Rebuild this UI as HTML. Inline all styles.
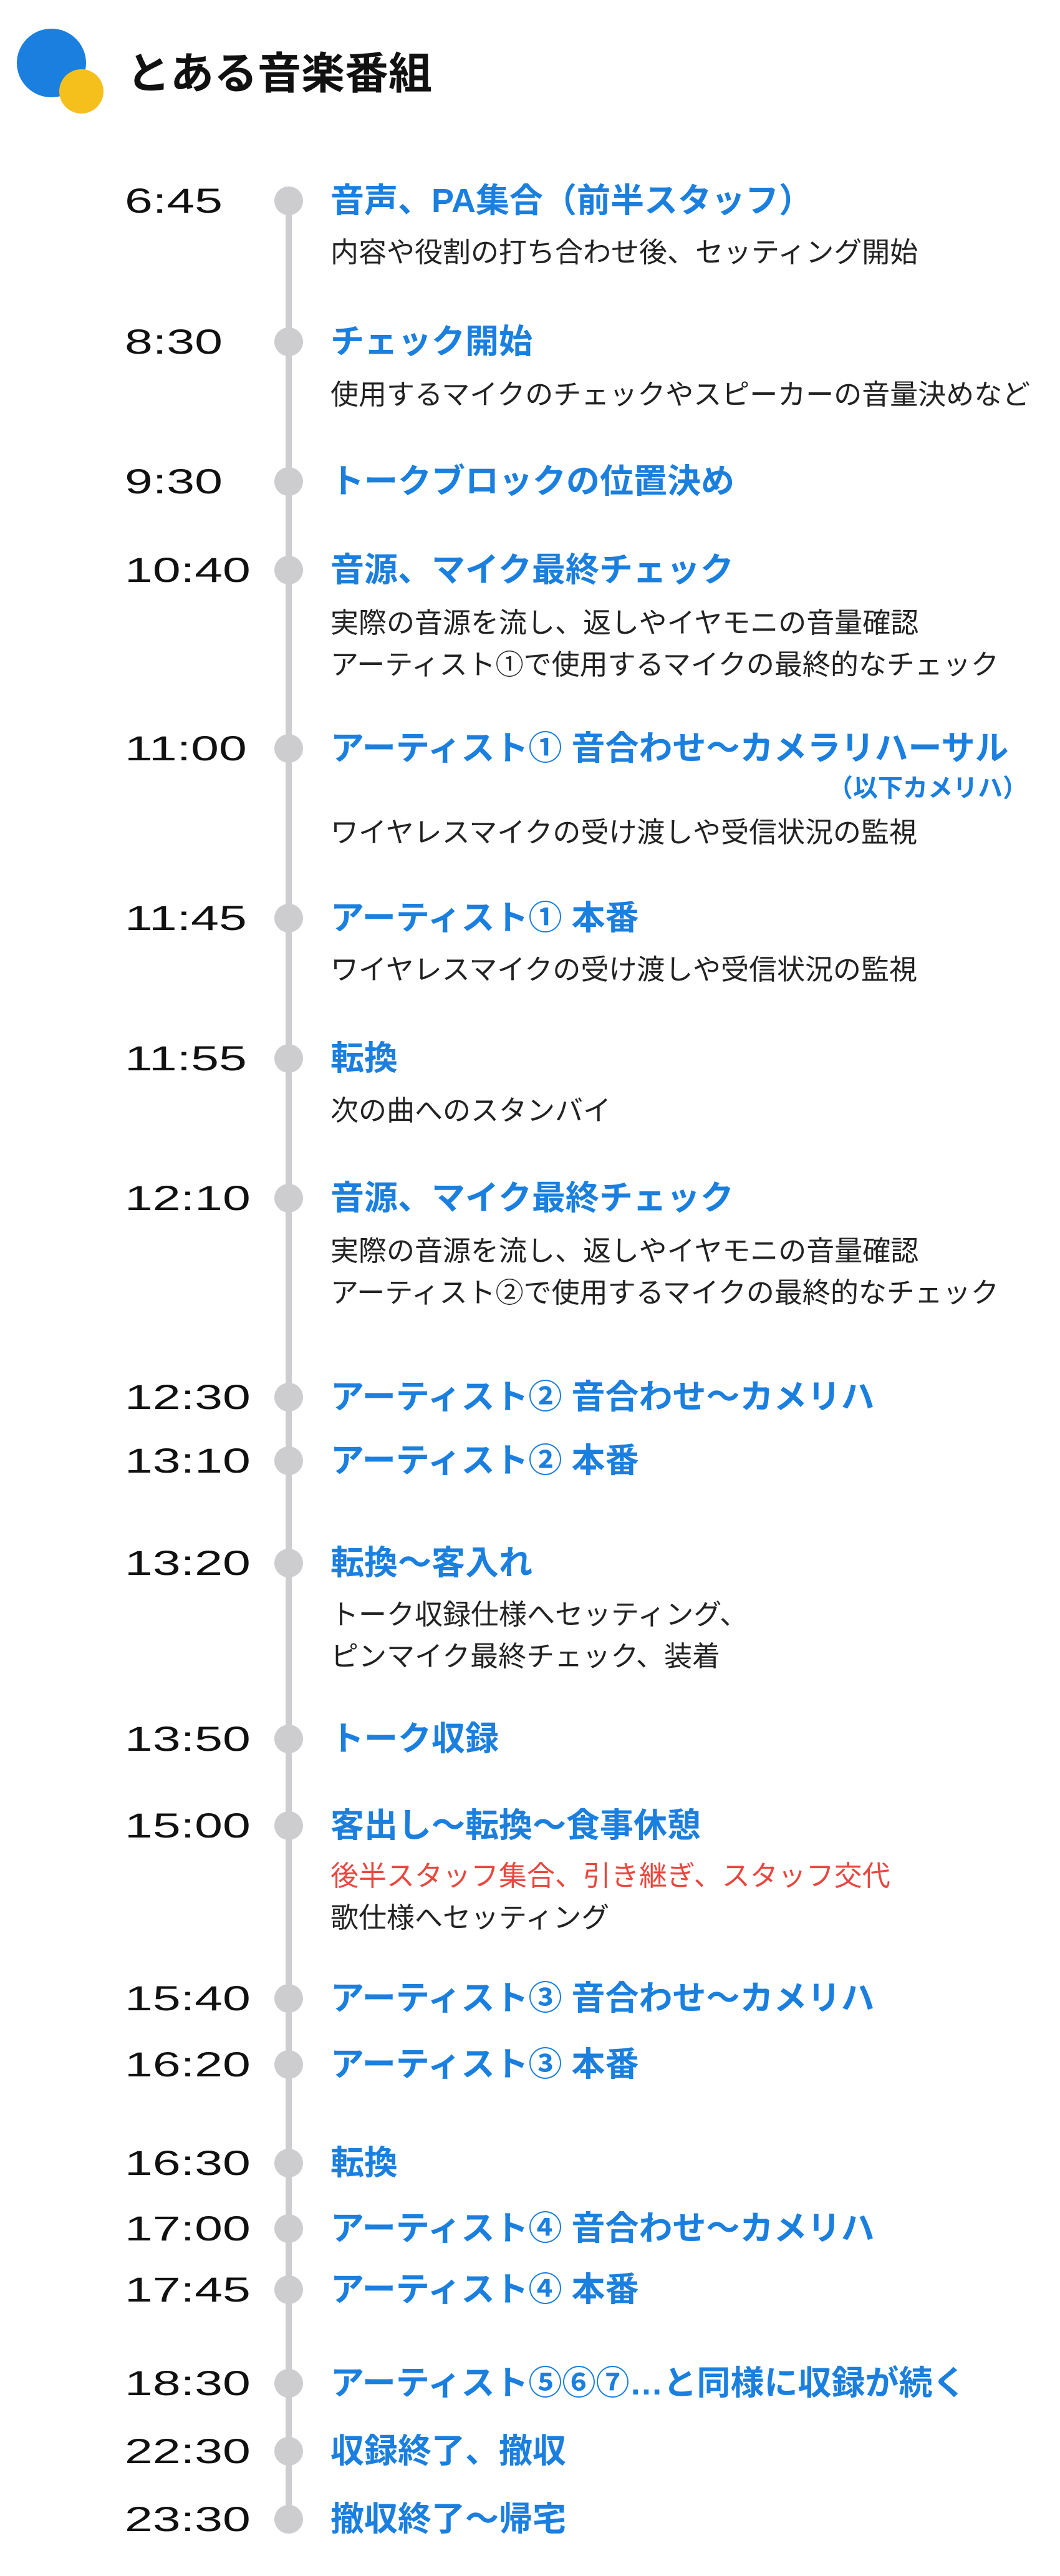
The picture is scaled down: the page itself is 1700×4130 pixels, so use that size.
<!DOCTYPE html>
<html><head><meta charset="utf-8"><style>
html,body{margin:0;padding:0;background:#fff;}
body{width:1700px;height:4130px;position:relative;overflow:hidden;font-family:"Liberation Sans","Noto Sans CJK JP",sans-serif;}
.a{position:absolute;white-space:nowrap;height:80px;line-height:80px;}
.t{left:200px;font-size:56px;color:#111;transform:scaleX(1.44);transform-origin:left center;}
.h{left:530px;font-size:54px;font-weight:bold;color:#1a7fdf;}
.d{left:530px;font-size:45px;color:#222;}
.r{color:#e8473f;}
.dot{position:absolute;left:440px;width:46px;height:46px;border-radius:50%;background:#cdcdd0;}
</style></head><body>
<div style="position:absolute;left:27px;top:46px;width:111px;height:110px;border-radius:50%;background:#1a7fdf;"></div>
<div style="position:absolute;left:95px;top:111px;width:71px;height:71px;border-radius:50%;background:#f5bf1c;"></div>
<div class="a" style="left:203px;top:78px;font-size:70px;font-weight:bold;color:#111;">とある音楽番組</div>
<div style="position:absolute;left:458px;top:322px;width:10px;height:3717px;background:#cdcdd0;"></div>

<div class="dot" style="top:299px"></div><div class="a t" style="top:282px">6:45</div><div class="a h" style="top:282px">音声、PA集合（前半スタッフ）</div>
<div class="a d" style="top:365px">内容や役割の打ち合わせ後、セッティング開始</div>

<div class="dot" style="top:525px"></div><div class="a t" style="top:508px">8:30</div><div class="a h" style="top:508px">チェック開始</div>
<div class="a d" style="top:593px">使用するマイクのチェックやスピーカーの音量決めなど</div>

<div class="dot" style="top:749px"></div><div class="a t" style="top:732px">9:30</div><div class="a h" style="top:732px">トークブロックの位置決め</div>

<div class="dot" style="top:891px"></div><div class="a t" style="top:874px">10:40</div><div class="a h" style="top:874px">音源、マイク最終チェック</div>
<div class="a d" style="top:959px">実際の音源を流し、返しやイヤモニの音量確認</div>
<div class="a d" style="top:1026px">アーティスト①で使用するマイクの最終的なチェック</div>

<div class="dot" style="top:1177px"></div><div class="a t" style="top:1160px">11:00</div><div class="a h" style="top:1160px">アーティスト① 音合わせ～カメラリハーサル</div>
<div class="a h" style="top:1224px;left:auto;right:52px;font-size:40px;">（以下カメリハ）</div>
<div class="a d" style="top:1295px">ワイヤレスマイクの受け渡しや受信状況の監視</div>

<div class="dot" style="top:1449px"></div><div class="a t" style="top:1432px">11:45</div><div class="a h" style="top:1432px">アーティスト① 本番</div>
<div class="a d" style="top:1515px">ワイヤレスマイクの受け渡しや受信状況の監視</div>

<div class="dot" style="top:1674px"></div><div class="a t" style="top:1657px">11:55</div><div class="a h" style="top:1657px">転換</div>
<div class="a d" style="top:1741px">次の曲へのスタンバイ</div>

<div class="dot" style="top:1898px"></div><div class="a t" style="top:1881px">12:10</div><div class="a h" style="top:1881px">音源、マイク最終チェック</div>
<div class="a d" style="top:1966px">実際の音源を流し、返しやイヤモニの音量確認</div>
<div class="a d" style="top:2033px">アーティスト②で使用するマイクの最終的なチェック</div>

<div class="dot" style="top:2217px"></div><div class="a t" style="top:2200px">12:30</div><div class="a h" style="top:2200px">アーティスト② 音合わせ～カメリハ</div>
<div class="dot" style="top:2319px"></div><div class="a t" style="top:2302px">13:10</div><div class="a h" style="top:2302px">アーティスト② 本番</div>

<div class="dot" style="top:2483px"></div><div class="a t" style="top:2466px">13:20</div><div class="a h" style="top:2466px">転換～客入れ</div>
<div class="a d" style="top:2549px">トーク収録仕様へセッティング、</div>
<div class="a d" style="top:2616px">ピンマイク最終チェック、装着</div>

<div class="dot" style="top:2765px"></div><div class="a t" style="top:2748px">13:50</div><div class="a h" style="top:2748px">トーク収録</div>

<div class="dot" style="top:2904px"></div><div class="a t" style="top:2887px">15:00</div><div class="a h" style="top:2887px">客出し～転換～食事休憩</div>
<div class="a d r" style="top:2968px">後半スタッフ集合、引き継ぎ、スタッフ交代</div>
<div class="a d" style="top:3035px">歌仕様へセッティング</div>

<div class="dot" style="top:3181px"></div><div class="a t" style="top:3164px">15:40</div><div class="a h" style="top:3164px">アーティスト③ 音合わせ～カメリハ</div>
<div class="dot" style="top:3287px"></div><div class="a t" style="top:3270px">16:20</div><div class="a h" style="top:3270px">アーティスト③ 本番</div>

<div class="dot" style="top:3445px"></div><div class="a t" style="top:3428px">16:30</div><div class="a h" style="top:3428px">転換</div>
<div class="dot" style="top:3550px"></div><div class="a t" style="top:3533px">17:00</div><div class="a h" style="top:3533px">アーティスト④ 音合わせ～カメリハ</div>
<div class="dot" style="top:3648px"></div><div class="a t" style="top:3631px">17:45</div><div class="a h" style="top:3631px">アーティスト④ 本番</div>

<div class="dot" style="top:3798px"></div><div class="a t" style="top:3781px">18:30</div><div class="a h" style="top:3781px">アーティスト⑤⑥⑦…と同様に収録が続く</div>
<div class="dot" style="top:3907px"></div><div class="a t" style="top:3890px">22:30</div><div class="a h" style="top:3890px">収録終了、撤収</div>
<div class="dot" style="top:4016px"></div><div class="a t" style="top:3999px">23:30</div><div class="a h" style="top:3999px">撤収終了～帰宅</div>
</body></html>
